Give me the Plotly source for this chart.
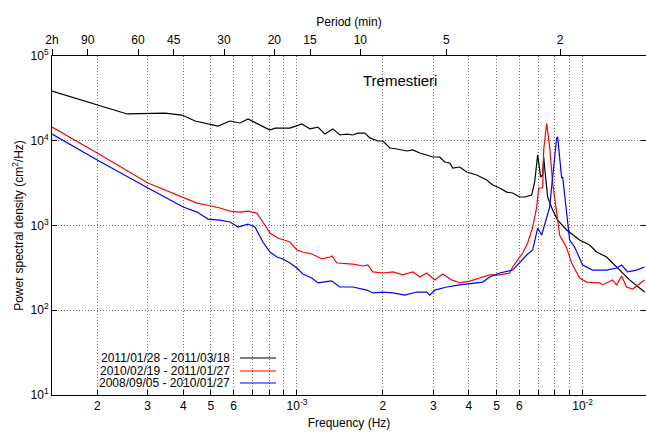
import plotly.graph_objects as go
import numpy as np

# ---------------- data ----------------
black_f = [1.39e-4, 2.0e-4, 2.545e-4, 3.455e-4, 3.96e-4, 4.40e-4, 5.29e-4, 5.83e-4, 6.32e-4, 6.74e-4,
           7.42e-4, 8.04e-4, 8.38e-4, 9.45e-4, 1.041e-3, 1.11e-3, 1.184e-3, 1.253e-3, 1.336e-3, 1.413e-3,
           1.496e-3, 1.570e-3, 1.634e-3, 1.729e-3, 1.800e-3, 1.920e-3, 2.0e-3, 2.115e-3, 2.237e-3, 2.425e-3,
           2.545e-3, 2.692e-3, 2.848e-3, 2.989e-3, 3.162e-3, 3.292e-3, 3.428e-3, 3.511e-3, 3.715e-3, 3.929e-3,
           4.259e-3, 4.616e-3, 4.845e-3, 5.126e-3, 5.424e-3, 5.692e-3, 6.022e-3, 6.269e-3, 6.633e-3, 6.795e-3,
           6.96e-3, 7.131e-3, 7.247e-3, 7.306e-3, 7.42e-3, 7.545e-3, 7.854e-3, 8.177e-3, 8.793e-3, 9.761e-3,
           1.058e-2, 1.119e-2, 1.213e-2, 1.273e-2, 1.347e-2, 1.460e-2, 1.583e-2, 1.648e-2]
black_p = [38600, 26400, 20700, 21200, 20100, 17100, 14900, 17100, 16200, 18100,
           15300, 13400, 14100, 14100, 15800, 13800, 14500, 12000, 13800, 11700,
           12000, 11700, 12300, 12300, 10800, 9930, 9930, 8210, 7990, 7570,
           7780, 7170, 6790, 6430, 6430, 5610, 5460, 4770, 4900, 4270,
           3940, 3440, 3000, 2770, 2480, 2420, 2170, 2170, 2290, 3260,
           6790, 3730, 3940, 6430, 3730, 2170, 1520, 1160, 885, 674,
           589, 487, 425, 361, 298, 228, 183, 164]

red_f = [1.39e-4, 2.0e-4, 3.01e-4, 4.0e-4, 4.47e-4, 5.0e-4, 5.38e-4, 5.83e-4, 6.32e-4, 6.74e-4,
         7.24e-4, 7.60e-4, 8.04e-4, 8.58e-4, 9.45e-4, 1.0e-3, 1.049e-3, 1.128e-3, 1.223e-3, 1.304e-3,
         1.326e-3, 1.380e-3, 1.570e-3, 1.701e-3, 1.771e-3, 1.844e-3, 2.0e-3, 2.167e-3, 2.348e-3, 2.545e-3,
         2.692e-3, 2.848e-3, 3.037e-3, 3.240e-3, 3.483e-3, 3.715e-3, 4.026e-3, 4.363e-3, 4.729e-3, 5.126e-3,
         5.556e-3, 5.692e-3, 6.169e-3, 6.422e-3, 6.687e-3, 6.906e-3, 7.017e-3, 7.247e-3, 7.306e-3, 7.484e-3,
         7.667e-3, 7.854e-3, 8.111e-3, 8.310e-3, 8.793e-3, 9.153e-3, 9.761e-3, 1.033e-2, 1.147e-2, 1.175e-2,
         1.273e-2, 1.315e-2, 1.369e-2, 1.425e-2, 1.496e-2, 1.648e-2]
red_p = [14500, 7170, 3170, 2170, 1840, 1700, 1610, 1480, 1440, 1480,
         1400, 1100, 815, 711, 638, 514, 487, 461, 403, 425,
         437, 361, 351, 333, 342, 283, 275, 283, 261, 283,
         247, 275, 228, 268, 228, 210, 221, 240, 261, 261,
         275, 324, 474, 622, 960, 1650, 2770, 2770, 7780, 16000,
         8440, 3170, 1520, 773, 543, 361, 240, 215, 210, 199,
         228, 199, 254, 188, 178, 228]

blue_f = [1.39e-4, 2.0e-4, 3.01e-4, 4.0e-4, 4.47e-4, 4.89e-4, 5.38e-4, 5.83e-4, 6.22e-4, 6.74e-4,
          7.13e-4, 7.60e-4, 8.04e-4, 8.51e-4, 8.93e-4, 9.45e-4, 1.0e-3, 1.049e-3, 1.128e-3, 1.184e-3,
          1.304e-3, 1.326e-3, 1.413e-3, 1.570e-3, 1.757e-3, 1.844e-3, 2.0e-3, 2.167e-3, 2.386e-3, 2.628e-3,
          2.848e-3, 2.917e-3, 3.037e-3, 3.345e-3, 3.715e-3, 4.124e-3, 4.470e-3, 4.729e-3, 5.126e-3, 5.692e-3,
          6.022e-3, 6.371e-3, 6.687e-3, 6.96e-3, 7.189e-3, 7.366e-3, 7.667e-3, 7.854e-3, 8.111e-3, 8.177e-3,
          8.310e-3, 8.445e-3, 8.513e-3, 8.793e-3, 9.006e-3, 9.376e-3, 1.0e-2, 1.084e-2, 1.213e-2, 1.315e-2,
          1.369e-2, 1.437e-2, 1.545e-2, 1.648e-2]
blue_p = [12000, 5930, 2770, 1650, 1440, 1190, 1160, 1100, 960, 1040,
          960, 638, 487, 425, 403, 361, 315, 268, 240, 210,
          221, 221, 188, 188, 173, 160, 164, 160, 151, 164,
          164, 151, 173, 188, 199, 210, 215, 247, 275, 298,
          371, 449, 514, 934, 773, 1010, 1650, 3730, 10800, 11100,
          5930, 3630, 3730, 1260, 674, 557, 342, 298, 298, 315,
          342, 283, 298, 324]

series_names = ["2011/01/28 - 2011/03/18", "2010/02/19 - 2011/01/27", "2008/09/05 - 2010/01/27"]
series_colors = ["#000000", "#ff0000", "#0000ff"]

period_ticks_min = [120, 90, 60, 45, 30, 20, 15, 10, 5, 2, 1]
period_labels = ["2h", "90", "60", "45", "30", "20", "15", "10", "5", "2", "1"]

freq_tickvals = [2e-4, 3e-4, 4e-4, 5e-4, 6e-4, 7e-4, 8e-4, 9e-4, 1e-3,
                 2e-3, 3e-3, 4e-3, 5e-3, 6e-3, 7e-3, 8e-3, 9e-3, 1e-2]
freq_ticktext = ["2", "3", "4", "5", "6", "", "", "", "10<sup>-3</sup>",
                 "2", "3", "4", "5", "6", "", "", "", "10<sup>-2</sup>"]

psd_tickvals = [1e1, 1e2, 1e3, 1e4, 1e5]
psd_ticktext = ["10<sup>1</sup>", "10<sup>2</sup>", "10<sup>3</sup>", "10<sup>4</sup>", "10<sup>5</sup>"]

# ---------------- figure ----------------
FONT = "Liberation Sans, Arial, Helvetica, sans-serif"
W, H = 646, 435
ML, MR, MT, MB = 52, 0, 56, 40

xr = [np.log10(1 / 7200), np.log10(1 / 60)]

fig = go.Figure()
series = [(black_f, black_p), (red_f, red_p), (blue_f, blue_p)]
for (f, p), name, col in zip(series, series_names, series_colors):
    fig.add_trace(go.Scatter(x=f, y=p, mode="lines", name=name,
                             line=dict(color=col, width=1.2), showlegend=False))

# invisible trace to activate the top (period) axis
fig.add_trace(go.Scatter(x=black_f, y=black_p, xaxis="x2", mode="lines",
                         line=dict(width=0), opacity=0, showlegend=False, hoverinfo="skip"))

grid = dict(showgrid=True, gridcolor="#707070", griddash="1px,2px", gridwidth=1)

fig.update_layout(
    width=W, height=H,
    margin=dict(l=ML, r=MR, t=MT, b=MB),
    paper_bgcolor="white", plot_bgcolor="white",
    font=dict(family=FONT, size=12, color="black"),
    xaxis=dict(type="log", range=xr, tickvals=freq_tickvals, ticktext=freq_ticktext,
               ticks="inside", ticklen=5, tickcolor="black", showline=True, linecolor="black",
               linewidth=1, mirror=False, zeroline=False, tickfont=dict(size=12),
               title=dict(text="Frequency (Hz)", font=dict(size=12), standoff=6), **grid),
    xaxis2=dict(type="log", range=xr, overlaying="x", side="top",
                tickvals=[1 / (60 * t) for t in period_ticks_min], ticktext=period_labels,
                ticks="outside", ticklen=6, tickcolor="black", showline=True, linecolor="black",
                linewidth=1, showgrid=False, zeroline=False, tickfont=dict(size=12),
                title=dict(text="Period (min)", font=dict(size=12), standoff=4)),
    yaxis=dict(type="log", range=[1, 5], tickvals=psd_tickvals, ticktext=psd_ticktext,
               ticks="inside", ticklen=5, tickcolor="black", showline=True, linecolor="black",
               linewidth=1, mirror="ticks", zeroline=False, tickfont=dict(size=12),
               title=dict(text="Power spectral density (cm<sup>2</sup>/Hz)", font=dict(size=12), standoff=4),
               **grid),
)

# title annotation inside plot
pw = W - ML - MR
ph = H - MT - MB
fig.add_annotation(text="Tremestieri", xref="paper", yref="paper",
                   x=(400 - ML) / pw, y=(H - MB - 80) / ph, showarrow=False,
                   font=dict(size=15, family=FONT, color="black"), xanchor="center", yanchor="middle")

# gnuplot-style legend: right-aligned text, then line sample
rows_y = [358, 371, 383]
for name, col, ry in zip(series_names, series_colors, rows_y):
    yp = (H - MB - ry) / ph
    fig.add_annotation(text=name, xref="paper", yref="paper", x=(232 - ML) / pw, y=yp,
                       xanchor="right", yanchor="middle", showarrow=False,
                       font=dict(size=12, family=FONT, color="black"))
    fig.add_shape(type="line", xref="paper", yref="paper",
                  x0=(240 - ML) / pw, x1=(276 - ML) / pw, y0=yp, y1=yp,
                  line=dict(color=col, width=1.2))

fig.write_html("out.html")
